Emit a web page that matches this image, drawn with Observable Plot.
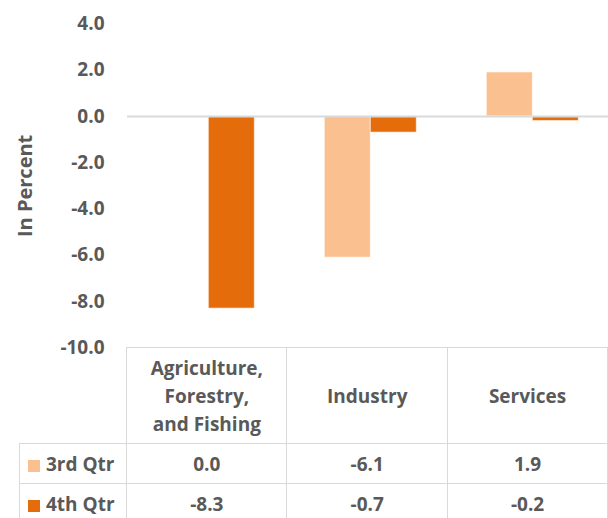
<!DOCTYPE html>
<html>
<head>
<meta charset="utf-8">
<script src="https://cdn.jsdelivr.net/npm/d3@7"></script>
<script src="https://cdn.jsdelivr.net/npm/@observablehq/plot@0.6"></script>
<style>
  html, body { margin: 0; padding: 0; background: #fff; overflow: hidden; }
  #wrap { position: relative; width: 608px; height: 518px; overflow: hidden; font-family: "Open Sans", sans-serif; font-weight: 700; color: #595959; }
  #chart svg { display: block; overflow: visible; max-width: none !important; }
  #chart [aria-label="y-axis label"] text { font-size: 20px; }
  #tbl { position: absolute; left: 19px; top: 347px; border-collapse: collapse; table-layout: fixed; font-size: 19px; }
  #tbl td { border: 1.5px solid #D9D9D9; text-align: center; padding: 0; }
  #tbl td.corner { border-top: none; border-left: none; }
  #tbl tr.head td { height: 95px; line-height: 28px; white-space: pre-line; }
  #tbl tr.row td { height: 39px; }
  #tbl td.lab { text-align: left; padding-left: 8px; white-space: nowrap; }
  .sw { display: inline-block; width: 12px; height: 12px; margin-right: 6px; vertical-align: -1px; }
</style>
</head>
<body>
<div id="wrap">
  <div id="chart"></div>
  <table id="tbl"></table>
</div>
<script>
const categories = ["Agriculture,\nForestry,\nand Fishing", "Industry", "Services"];
const series = ["3rd Qtr", "4th Qtr"];
const q3 = [0.0, -6.1, 1.9];
const q4 = [-8.3, -0.7, -0.2];
const colors = ["#FAC090", "#E46C0A"];
const yTicks = [4, 2, 0, -2, -4, -6, -8, -10];

const values = [q3, q4];
const data = [];
series.forEach((s, i) => categories.forEach((c, j) => data.push({category: c, series: s, value: values[i][j]})));

const chart = Plot.plot({
  width: 614,
  height: 364,
  marginLeft: 126.7,
  marginRight: 0,
  marginTop: 23.3,
  marginBottom: 16.5,
  style: {fontFamily: "Open Sans, sans-serif", fontSize: "19px", fontWeight: 700, color: "#595959", background: "white"},
  fx: {domain: categories, padding: 0, axis: null},
  x: {domain: series, paddingInner: 0, paddingOuter: 0.75, axis: null},
  y: {domain: [-10, 4], ticks: yTicks, tickFormat: d => d.toFixed(1), tickSize: 0, tickPadding: 23,
      label: "In Percent", labelAnchor: "center", labelOffset: 110, labelArrow: "none"},
  color: {domain: series, range: colors},
  marks: [
    Plot.barY(data, {fx: "category", x: "series", y: "value", fill: "series", stroke: "#ffffff", strokeOpacity: 0.6, strokeWidth: 1}),
    Plot.ruleY([0], {stroke: "#D9D9D9", strokeWidth: 2})
  ]
});
document.getElementById("chart").appendChild(chart);

// data table
const tbl = document.getElementById("tbl");
const colW = [107.7, 161.6, 163.4, 162.5];
const cg = document.createElement("colgroup");
colW.forEach(w => { const c = document.createElement("col"); c.style.width = w + "px"; cg.appendChild(c); });
tbl.appendChild(cg);
const head = document.createElement("tr");
head.className = "head";
const corner = document.createElement("td");
corner.className = "corner";
head.appendChild(corner);
categories.forEach(c => { const td = document.createElement("td"); td.textContent = c; head.appendChild(td); });
tbl.appendChild(head);
series.forEach((s, i) => {
  const tr = document.createElement("tr");
  tr.className = "row";
  const lab = document.createElement("td");
  lab.className = "lab";
  const sw = document.createElement("span");
  sw.className = "sw";
  sw.style.background = colors[i];
  lab.appendChild(sw);
  lab.appendChild(document.createTextNode(s));
  tr.appendChild(lab);
  values[i].forEach(v => { const td = document.createElement("td"); td.textContent = v.toFixed(1); tr.appendChild(td); });
  tbl.appendChild(tr);
});
</script>
</body>
</html>
